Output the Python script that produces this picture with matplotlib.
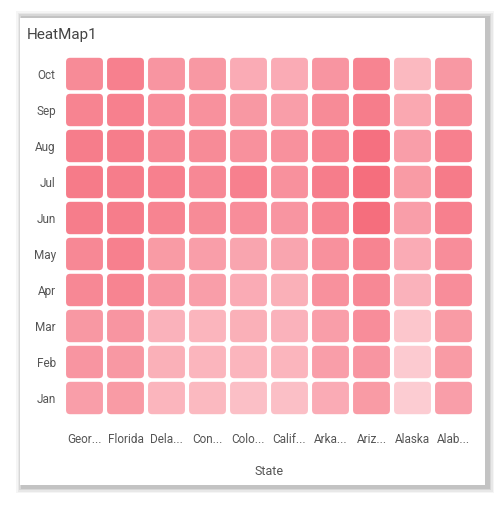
import numpy as np
from matplotlib import pyplot as plt
from matplotlib.patches import FancyBboxPatch, Rectangle
from matplotlib.colors import LinearSegmentedColormap

states = ['Geor...', 'Florida', 'Dela...', 'Con...', 'Colo...', 'Calif...',
          'Arka...', 'Ariz...', 'Alaska', 'Alab...']
months = ['Jan', 'Feb', 'Mar', 'Apr', 'May', 'Jun', 'Jul', 'Aug', 'Sep', 'Oct']
# rows follow months (Jan first), columns follow states
values = [
    [55, 58, 38, 35, 30, 30, 45, 58, 20, 55],
    [62, 60, 42, 38, 38, 38, 55, 62, 22, 58],
    [60, 62, 40, 38, 42, 40, 55, 68, 25, 58],
    [72, 75, 62, 55, 45, 42, 65, 72, 40, 68],
    [72, 78, 58, 55, 50, 50, 65, 75, 45, 68],
    [80, 80, 75, 70, 68, 62, 75, 92, 55, 78],
    [82, 80, 78, 72, 78, 65, 80, 92, 58, 82],
    [80, 80, 72, 70, 65, 65, 75, 90, 55, 78],
    [75, 78, 68, 65, 60, 55, 70, 80, 48, 70],
    [70, 78, 62, 60, 45, 45, 62, 75, 35, 60],
]

cmap = LinearSegmentedColormap.from_list('pinks', ['#fdd3d8', '#f56a7a'])
W, H = 497, 505
fig = plt.figure(figsize=(W / 100, H / 100), dpi=100)
fig.patch.set_facecolor('white')

# card with soft shadow
for i, a in enumerate([0.04, 0.05, 0.07, 0.09]):
    d = 6 - i * 1.5
    fig.patches.append(Rectangle(((20 - d + 2) / W, 1 - (487 + d) / H),
                                 (466 + 2 * d) / W, (470 + 2 * d) / H,
                                 transform=fig.transFigure, color='black',
                                 alpha=a, lw=0, zorder=-5))
fig.patches.append(Rectangle((20 / W, 1 - 485 / H), 465 / W, 467 / H,
                             transform=fig.transFigure, color='white', lw=0, zorder=-4))
fig.text(27 / W, 1 - 35 / H, 'HeatMap1', fontsize=11, color='#444444',
         va='center', family='Roboto')

ax = fig.add_axes([64 / W, 1 - 416 / H, 410 / W, 360 / H])
ax.set_facecolor('none')
ax.set_xlim(0, 10)
ax.set_ylim(0, 10)
data = np.array(values, dtype=float)
norm = plt.Normalize(15, 95)
gap = 0.05
for r in range(len(months)):
    for c in range(len(states)):
        ax.add_patch(FancyBboxPatch((c + gap, r + gap), 1 - 2 * gap, 1 - 2 * gap,
                                    boxstyle='round,pad=0,rounding_size=0.1',
                                    mutation_aspect=1.14,
                                    facecolor=cmap(norm(data[r, c])),
                                    edgecolor='none'))
ax.set_xticks(np.arange(len(states)) + 0.5)
ax.set_xticklabels(states, family='Roboto', fontsize=8.5, color='#555555')
ax.set_yticks(np.arange(len(months)) + 0.5)
ax.set_yticklabels(months, family='Roboto', fontsize=8.5, color='#555555')
ax.tick_params(length=0, pad=6)
ax.tick_params(axis='x', pad=12)
for s in ax.spines.values():
    s.set_visible(False)
ax.set_xlabel('State', family='Roboto', fontsize=9, color='#555555', labelpad=14)

plt.savefig('out.png', dpi=100)
